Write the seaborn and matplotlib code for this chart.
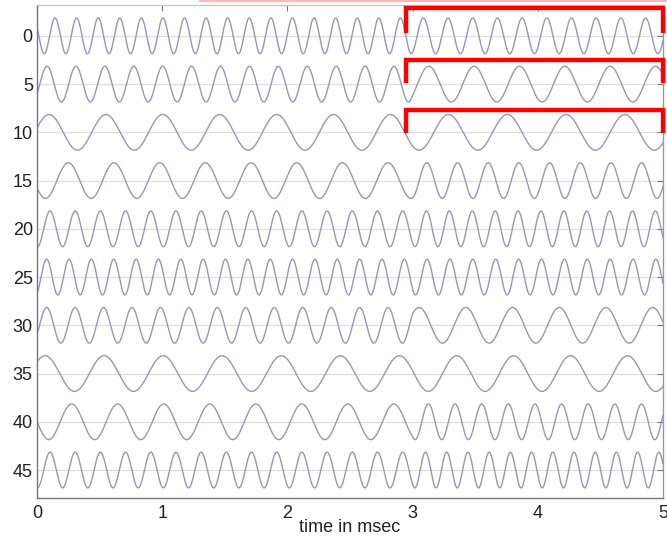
import numpy as np
import pandas as pd
import matplotlib
matplotlib.use("Agg")
import matplotlib.pyplot as plt
from matplotlib.lines import Line2D
import seaborn as sns

# ---- data ----
offsets = [0, 5, 10, 15, 20, 25, 30, 35, 40, 45]
freq_before_khz = [5.80, 4.33, 2.20, 2.74, 4.97, 5.60, 4.40, 2.12, 2.72, 4.97]
freq_after_khz = [5.07, 2.76, 2.13, 4.08, 5.47, 5.47, 2.68, 2.20, 4.70, 5.90]
first_peak_ms = [0.144, 0.080, 0.096, 0.250, 0.104, 0.077, 0.077, 0.064, 0.277, 0.104]
amplitude = 1.85
switch_ms = 3.0

bracket_rows = [0, 5, 10]
bracket_top = [-2.9, 2.48, 7.65]
bracket_bottom = [-0.3, 4.9, 10.05]
bracket_start_ms = 2.95
bracket_end_ms = 5.0

x_ticks = [0, 1, 2, 3, 4, 5]
y_ticks = offsets
xlabel = "time in msec"

# ---- build long table ----
t = np.linspace(0, 5, 3001)
frames = []
for off, fb, fa, p in zip(offsets, freq_before_khz, freq_after_khz, first_peak_ms):
    theta = np.where(t < switch_ms,
                     fb * (t - p),
                     fb * (switch_ms - p) + fa * (t - switch_ms))
    y = off - amplitude * np.cos(2 * np.pi * theta)
    frames.append(pd.DataFrame({"t": t, "y": y, "row": off}))
df = pd.concat(frames, ignore_index=True)

sns.set_theme(style="white")
plt.rcParams["font.family"] = ["Liberation Sans", "DejaVu Sans"]

fig = plt.figure(figsize=(6.67, 5.41), dpi=100)
ax = fig.add_axes([37 / 667, 1 - 498 / 541, 626 / 667, 493 / 541])

for yv in y_ticks:
    ax.axhline(yv, color="#dedede", lw=0.9, zorder=0)

sns.lineplot(data=df, x="t", y="y", units="row", estimator=None,
             color="#9696bd", lw=1.0, ax=ax, legend=False, sort=False)

ax.set_xlim(0, 5)
ax.set_ylim(47.9, -3.2)
ax.set_xticks(x_ticks)
ax.set_yticks(y_ticks)
ax.set_xticklabels([str(v) for v in x_ticks])
ax.set_yticklabels([str(v) for v in y_ticks])
ax.tick_params(axis="both", direction="in", length=4, width=0.8,
               colors="#777777", labelcolor="#222222", labelsize=13,
               top=True, right=True)
ax.tick_params(axis="x", pad=5)
ax.tick_params(axis="y", pad=3)
ax.set_ylabel("")
ax.set_xlabel(xlabel, fontsize=13, color="#222222")
ax.xaxis.set_label_coords(0.50, -0.043)

for side, c in [("left", "#777777"), ("bottom", "#777777"),
                ("top", "#c8c8c8"), ("right", "#999999")]:
    ax.spines[side].set_color(c)
    ax.spines[side].set_linewidth(1.0)

for top, bot in zip(bracket_top, bracket_bottom):
    ax.plot([bracket_start_ms, bracket_start_ms, bracket_end_ms, bracket_end_ms],
            [bot, top, top, bot], color="#ff0000", lw=3.2,
            solid_joinstyle="miter", solid_capstyle="butt", clip_on=False, zorder=5)

fig.add_artist(Line2D([200 / 667, 1.0], [1 - 1 / 541, 1 - 1 / 541],
                      transform=fig.transFigure, color="#ffb8b8", lw=1.5))

fig.savefig("out.png", dpi=100)
